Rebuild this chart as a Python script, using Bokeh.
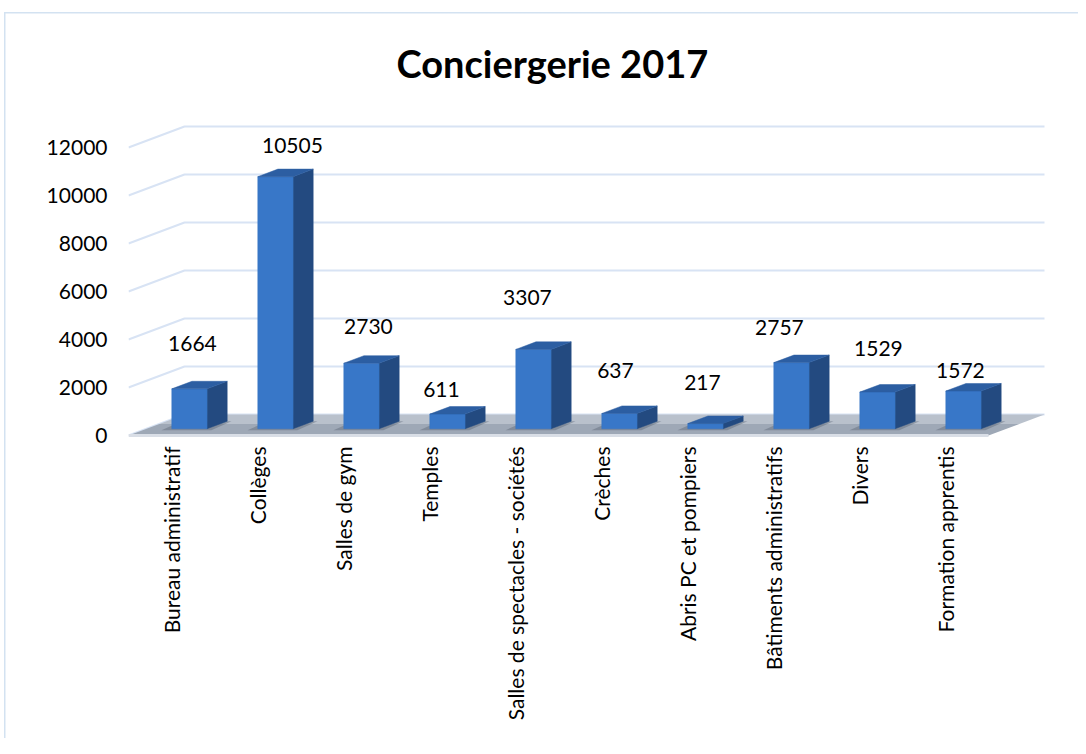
import math
from bokeh.plotting import figure
from bokeh.models import Range1d, FixedTicker, ColumnDataSource, LinearAxis
from bokeh.core.properties import value
from bokeh.embed import file_html
from bokeh.resources import INLINE

# ---------------- data ----------------
title_text = "Conciergerie 2017"
categories = ["Bureau administratif", "Collèges", "Salles de gym", "Temples",
              "Salles de spectacles - sociétés", "Crèches", "Abris PC et pompiers",
              "Bâtiments administratifs", "Divers", "Formation apprentis"]
values = [1664, 10505, 2730, 611, 3307, 637, 217, 2757, 1529, 1572]
y_ticks = [0, 2000, 4000, 6000, 8000, 10000, 12000]

# ---------------- style ----------------
FONT = "Lato"
label_dx = [3, 17, 7, -6, -6, -4, -3, -12, 1, -3]      # px nudges of value labels
label_dy = [45, 31, 37, 25, 52, 43, 41, 35, 44, 21]    # px above bar top
PX_X = 86.0      # px per category slot
PX_Y = 0.024     # px per value unit
FRAME_W, FRAME_H = 922, 350
DEPTH_X = 56 / PX_X          # full floor depth, in x data units
DEPTH_Y = 21 / PX_Y          # full floor depth, in y data units
F_FRONT, F_DEPTH, BAR_W = 0.32, 0.36, 0.41
BORDER = "#d3e2f1"

n = len(categories)
x_end = FRAME_W / PX_X
y_start = -5 / PX_Y
y_end = y_start + FRAME_H / PX_Y

p = figure(frame_width=FRAME_W, frame_height=FRAME_H,
           min_border_left=128, min_border_right=28,
           min_border_top=90, min_border_bottom=298,
           x_range=Range1d(0, x_end), y_range=Range1d(y_start, y_end),
           output_backend="svg", toolbar_location=None, x_axis_location=None,
           y_axis_location=None)
p.outline_line_color = None
p.xgrid.visible = False
p.ygrid.visible = False
p.background_fill_color = "white"
p.border_fill_alpha = 0
# thin light-blue chart box (left and top edges visible)
p.styles = {
    "background-color": "white",
    "background-image": (f"linear-gradient({BORDER},{BORDER}), "
                         f"linear-gradient({BORDER},{BORDER})"),
    "background-position": "4px 12px, 4px 12px",
    "background-size": "1.5px 100%, 100% 1.5px",
    "background-repeat": "no-repeat, no-repeat",
}

# gridlines (front slant + back wall)
gxs, gys = [], []
for v in y_ticks:
    gxs.append([0, DEPTH_X, n + DEPTH_X])
    gys.append([v, v + DEPTH_Y, v + DEPTH_Y])
p.multi_line(gxs, gys, line_color="#d8e3f4", line_width=2)

# floor
def band(f0, f1):
    return ([f0 * DEPTH_X, n + f0 * DEPTH_X, n + f1 * DEPTH_X, f1 * DEPTH_X],
            [f0 * DEPTH_Y, f0 * DEPTH_Y, f1 * DEPTH_Y, f1 * DEPTH_Y])
fx1, fy1 = band(0.0, 0.55)
fx2, fy2 = band(0.55, 1.0)
p.patches([fx1, fx2], [fy1, fy2], fill_color=["#9ea8b6", "#b9c1cc"], line_color=None)
p.line([0, n], [0, 0], line_color="#d9dee6", line_width=3)

# shadows on floor behind bars
sx, sy = [], []
for i, v in enumerate(values):
    xl = i + 0.5 - BAR_W / 2 + F_FRONT * DEPTH_X
    xr = xl + BAR_W
    y0 = F_FRONT * DEPTH_Y
    sx.append([xl - 0.12, xr + 0.05, xr + 0.05 + F_DEPTH * DEPTH_X, xl - 0.12 + F_DEPTH * DEPTH_X])
    sy.append([y0 - 60, y0 - 60, y0 + F_DEPTH * DEPTH_Y, y0 + F_DEPTH * DEPTH_Y])
p.patches(sx, sy, fill_color="#5d6878", fill_alpha=0.45, line_color=None)

# bars
front_x, front_y, side_x, side_y, top_x, top_y = [], [], [], [], [], []
lab_x, lab_y = [], []
for i, v in enumerate(values):
    xl = i + 0.5 - BAR_W / 2 + F_FRONT * DEPTH_X
    xr = xl + BAR_W
    yb = F_FRONT * DEPTH_Y
    yt = yb + v
    dx = F_DEPTH * DEPTH_X
    dy = F_DEPTH * DEPTH_Y
    front_x.append([xl, xr, xr, xl]); front_y.append([yb, yb, yt, yt])
    side_x.append([xr, xr + dx, xr + dx, xr]); side_y.append([yb, yb + dy, yt + dy, yt])
    top_x.append([xl, xr, xr + dx, xl + dx]); top_y.append([yt, yt, yt + dy, yt + dy])
    lab_x.append((xl + xr) / 2); lab_y.append(yt)
p.patches(side_x, side_y, fill_color="#234a80", line_color="#234a80", line_width=0.5)
p.patches(front_x, front_y, fill_color="#3877c8", line_color="#3575c4", line_width=0.5)
p.patches(top_x, top_y, fill_color="#2c5ea2", line_color="#2c5ea2", line_width=0.5)

# value labels
src = ColumnDataSource(dict(x=lab_x, y=lab_y, t=[str(v) for v in values],
                            dx=label_dx, dy=[-d for d in label_dy]))
p.text(x="x", y="y", text="t", x_offset="dx", y_offset="dy", source=src,
       text_align="center", text_baseline="middle", text_color="#000000",
       text_font=value(FONT), text_font_size="21px")

# axes
yax = LinearAxis(ticker=FixedTicker(ticks=y_ticks))
yax.axis_line_color = None
yax.major_tick_line_color = None
yax.minor_tick_line_color = None
yax.major_tick_out = 0
yax.major_tick_in = 0
yax.major_label_standoff = 21
yax.major_label_text_font = FONT
yax.major_label_text_font_size = "21px"
yax.major_label_text_color = "#000000"
p.add_layout(yax, "left")

xticks = [i + 0.5 for i in range(n)]
xax = LinearAxis(ticker=FixedTicker(ticks=xticks),
                 major_label_overrides={t: c for t, c in zip(xticks, categories)})
xax.axis_line_color = None
xax.major_tick_line_color = None
xax.minor_tick_line_color = None
xax.major_tick_out = 0
xax.major_tick_in = 0
xax.major_label_orientation = math.pi / 2
xax.major_label_standoff = 6
xax.major_label_text_font = FONT
xax.major_label_text_font_size = "21px"
xax.major_label_text_color = "#000000"
p.add_layout(xax, "below")

# title
p.title.text = title_text
p.title.align = "left"
p.title.offset = 268
p.title.text_font = FONT
p.title.text_font_style = "bold"
p.title.text_font_size = "38px"
p.title.text_color = "#000000"

open("out.html", "w").write(file_html(p, INLINE))
